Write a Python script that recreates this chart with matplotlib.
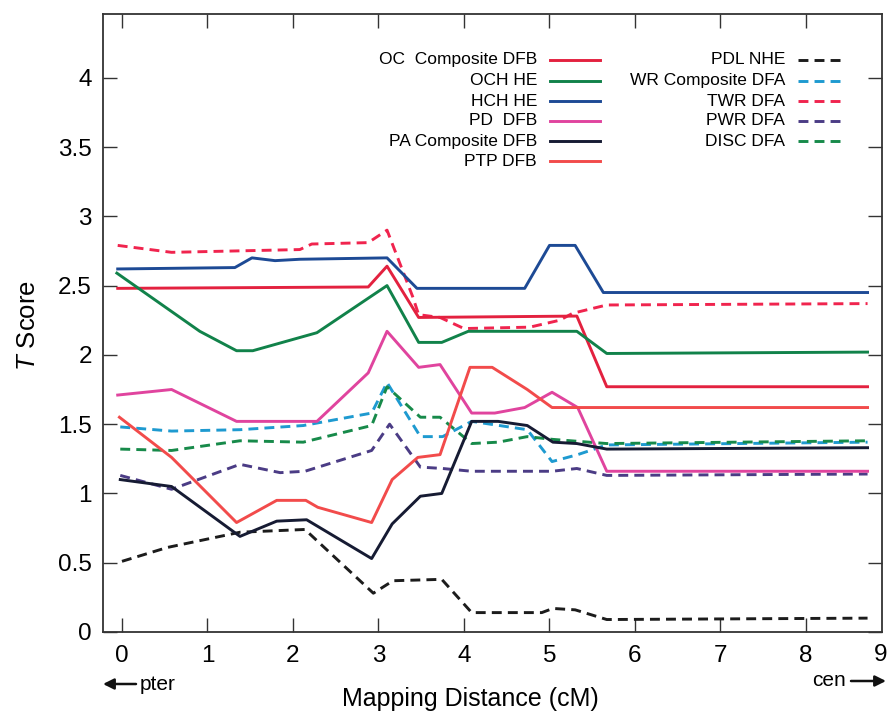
import matplotlib
matplotlib.use("Agg")
import matplotlib.pyplot as plt

plt.rcParams['font.family'] = ['Liberation Sans', 'DejaVu Sans']
plt.rcParams['mathtext.fontset'] = 'custom'
plt.rcParams['mathtext.it'] = 'Liberation Sans:italic'
plt.rcParams['mathtext.rm'] = 'Liberation Sans'

# series (x in cM, y = T score)
oc_x = [-0.05, 2.88, 3.10, 3.47, 5.32, 5.67, 8.72]
oc_y = [2.48, 2.49, 2.64, 2.27, 2.28, 1.77, 1.77]

och_x = [-0.06, 0.91, 1.34, 1.53, 2.28, 3.10, 3.47, 3.74, 4.05, 5.32, 5.67, 8.72]
och_y = [2.59, 2.17, 2.03, 2.03, 2.16, 2.50, 2.09, 2.09, 2.17, 2.17, 2.01, 2.02]

hch_x = [-0.05, 1.32, 1.52, 1.79, 2.08, 3.10, 3.45, 4.71, 5.00, 5.30, 5.63, 8.72]
hch_y = [2.62, 2.63, 2.70, 2.68, 2.69, 2.70, 2.48, 2.48, 2.79, 2.79, 2.45, 2.45]

pd_x = [-0.05, 0.58, 1.34, 2.28, 2.88, 3.10, 3.47, 3.72, 4.09, 4.36, 4.71, 5.03, 5.33, 5.67, 8.72]
pd_y = [1.71, 1.75, 1.52, 1.52, 1.87, 2.17, 1.91, 1.93, 1.58, 1.58, 1.62, 1.73, 1.62, 1.16, 1.16]

pa_x = [-0.02, 0.58, 1.38, 1.81, 2.16, 2.92, 3.16, 3.49, 3.74, 4.09, 4.40, 4.74, 5.04, 5.32, 5.67, 8.72]
pa_y = [1.10, 1.05, 0.69, 0.80, 0.81, 0.53, 0.78, 0.98, 1.00, 1.52, 1.52, 1.49, 1.37, 1.36, 1.32, 1.33]

ptp_x = [-0.03, 0.58, 1.34, 1.81, 2.15, 2.29, 2.92, 3.16, 3.46, 3.72, 4.07, 4.33, 4.74, 5.03, 8.72]
ptp_y = [1.55, 1.26, 0.79, 0.95, 0.95, 0.90, 0.79, 1.10, 1.26, 1.28, 1.91, 1.91, 1.75, 1.62, 1.62]

pdl_x = [0.0, 0.53, 1.38, 2.14, 2.94, 3.17, 3.74, 4.09, 4.91, 5.04, 5.30, 5.67, 8.72]
pdl_y = [0.51, 0.61, 0.72, 0.74, 0.28, 0.37, 0.38, 0.14, 0.14, 0.17, 0.16, 0.09, 0.10]

wr_x = [-0.02, 0.58, 1.38, 2.12, 2.92, 3.10, 3.49, 3.75, 4.09, 4.74, 5.03, 5.33, 5.67, 8.72]
wr_y = [1.48, 1.45, 1.46, 1.49, 1.58, 1.80, 1.41, 1.41, 1.52, 1.46, 1.23, 1.28, 1.35, 1.37]

twr_x = [-0.05, 0.58, 2.08, 2.22, 2.88, 3.10, 3.40, 3.47, 3.72, 4.00, 4.77, 5.12, 5.27, 5.67, 8.72]
twr_y = [2.79, 2.74, 2.76, 2.80, 2.81, 2.90, 2.42, 2.29, 2.27, 2.19, 2.20, 2.25, 2.30, 2.36, 2.37]

pwr_x = [-0.02, 0.58, 1.38, 1.85, 2.14, 2.92, 3.13, 3.49, 3.75, 4.09, 5.03, 5.32, 5.67, 8.72]
pwr_y = [1.13, 1.03, 1.21, 1.15, 1.16, 1.31, 1.50, 1.19, 1.18, 1.16, 1.16, 1.18, 1.13, 1.14]

disc_x = [-0.02, 0.58, 1.38, 2.12, 2.92, 3.10, 3.49, 3.72, 4.09, 4.40, 4.74, 5.04, 5.67, 8.72]
disc_y = [1.32, 1.31, 1.38, 1.37, 1.49, 1.77, 1.55, 1.55, 1.36, 1.37, 1.41, 1.39, 1.36, 1.38]

solid_names = ['OC  Composite DFB', 'OCH HE', 'HCH HE', 'PD  DFB', 'PA Composite DFB', 'PTP DFB']
dash_names = ['PDL NHE', 'WR Composite DFA', 'TWR DFA', 'PWR DFA', 'DISC DFA']

xtick_vals = [0, 1, 2, 3, 4, 5, 6, 7, 8]
ytick_vals = [0, 0.5, 1, 1.5, 2, 2.5, 3, 3.5, 4]
ytick_labels = ['0', '0.5', '1', '1.5', '2', '2.5', '3', '3.5', '4']

solid = [(oc_x, oc_y, '#e3213f'), (och_x, och_y, '#11824a'), (hch_x, hch_y, '#1d4a95'),
         (pd_x, pd_y, '#e0449e'), (pa_x, pa_y, '#161b33'), (ptp_x, ptp_y, '#f24b4b')]
dashed = [(pdl_x, pdl_y, '#1c1c1c'), (wr_x, wr_y, '#1e9ad0'), (twr_x, twr_y, '#f0244e'),
          (pwr_x, pwr_y, '#4b3c85'), (disc_x, disc_y, '#178a4a')]

fig = plt.figure(figsize=(8.89, 7.13), dpi=100)
ax = fig.add_axes([103/889, 81/713, 779/889, 618/713])

lw = 2.1
dash = (3.4, 2.1)
for x, y, c in dashed:
    ax.plot(x, y, color=c, lw=lw, dashes=dash)
for x, y, c in solid:
    ax.plot(x, y, color=c, lw=lw)

ax.set_xlim(-0.222, 8.889)
ax.set_ylim(0, 4.46)
ax.set_xticks(xtick_vals)
ax.set_xticklabels([str(v) for v in xtick_vals], fontsize=17.5)
ax.set_yticks(ytick_vals)
ax.set_yticklabels(ytick_labels, fontsize=17.5)
ax.tick_params(direction='in', top=True, right=True, length=10, width=1, color='#333333')
ax.tick_params(axis='x', pad=9)
ax.tick_params(axis='y', pad=8)
for s in ax.spines.values():
    s.set_color('#333333')
    s.set_linewidth(1.3)

# the 9 label sits at the right spine, at the picture's edge
ax.text(8.875, -0.0202, '9', transform=ax.get_xaxis_transform(), ha='center', va='top',
        fontsize=17.5, clip_on=False)

# legend, drawn by hand: labels right aligned, line sample on the right
rows1 = [0.926, 0.892, 0.859, 0.827, 0.794, 0.762]
for i, name in enumerate(solid_names):
    ax.text(0.557, rows1[i], name, transform=ax.transAxes, ha='right', va='center', fontsize=12.5)
    ax.plot([0.574, 0.638], [rows1[i], rows1[i]], transform=ax.transAxes,
            color=solid[i][2], lw=lw)
for i, name in enumerate(dash_names):
    ax.text(0.8755, rows1[i], name, transform=ax.transAxes, ha='right', va='center', fontsize=12.5)
    ax.plot([0.892, 0.949], [rows1[i], rows1[i]], transform=ax.transAxes,
            color=dashed[i][2], lw=lw, dashes=dash)

fig.text(28/889, 1 - 325/713, r'$T$ Score', rotation=90, ha='center', va='center', fontsize=18.5)
fig.text(470/889, 1 - 699/713, 'Mapping Distance (cM)', ha='center', va='center', fontsize=18)

# direction arrows under the axis
arrow = dict(arrowstyle='-|>', color='#111111', lw=1.8, mutation_scale=16, shrinkA=0, shrinkB=0)
fig.text(140/889, 1 - 684/713, 'pter', ha='left', va='center', fontsize=15)
ax.annotate('', xy=(103, 713 - 684), xytext=(136, 713 - 684), xycoords='figure pixels',
            textcoords='figure pixels', arrowprops=arrow, annotation_clip=False)
fig.text(846/889, 1 - 681/713, 'cen', ha='right', va='center', fontsize=15)
ax.annotate('', xy=(886, 713 - 681), xytext=(851, 713 - 681), xycoords='figure pixels',
            textcoords='figure pixels', arrowprops=arrow, annotation_clip=False)

fig.savefig('out.png', dpi=100)
